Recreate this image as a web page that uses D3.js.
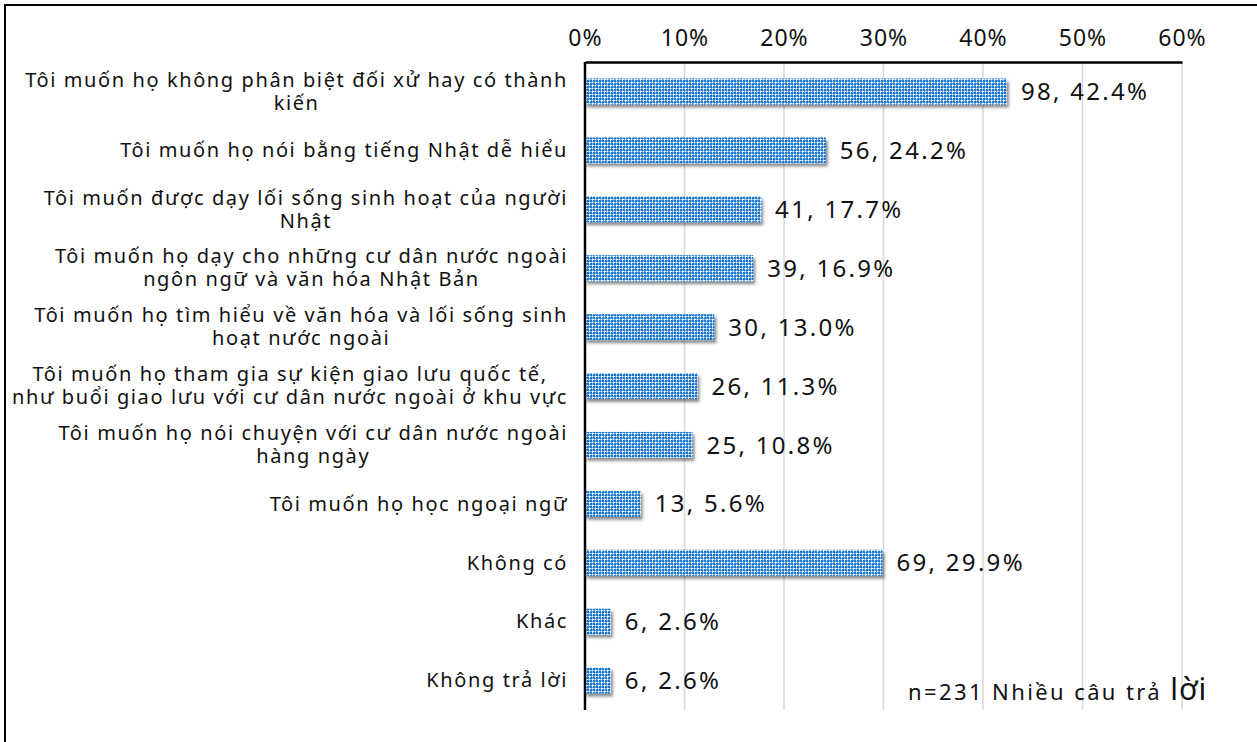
<!DOCTYPE html>
<html>
<head>
<meta charset="utf-8">
<script src="https://cdn.jsdelivr.net/npm/d3@7/dist/d3.min.js"></script>
<style>
  html, body { margin: 0; padding: 0; background: #fff; }
  svg { display: block; font-family: "Noto Sans", "Open Sans", sans-serif; }
</style>
</head>
<body>
<svg id="chart" width="1257" height="742"></svg>
<script>
// Survey answers (multi-line labels split with "\n")
const categories = [
  "Tôi muốn họ không phân biệt đối xử hay có thành\nkiến",
  "Tôi muốn họ nói bằng tiếng Nhật dễ hiểu",
  "Tôi muốn được dạy lối sống sinh hoạt của người\nNhật",
  "Tôi muốn họ dạy cho những cư dân nước ngoài\nngôn ngữ và văn hóa Nhật Bản",
  "Tôi muốn họ tìm hiểu về văn hóa và lối sống sinh\nhoạt nước ngoài",
  "Tôi muốn họ tham gia sự kiện giao lưu quốc tế,\nnhư buổi giao lưu với cư dân nước ngoài ở khu vực",
  "Tôi muốn họ nói chuyện với cư dân nước ngoài\nhàng ngày",
  "Tôi muốn họ học ngoại ngữ",
  "Không có",
  "Khác",
  "Không trả lời"
];
const counts   = [98, 56, 41, 39, 30, 26, 25, 13, 69, 6, 6];
const percents = [42.4, 24.2, 17.7, 16.9, 13.0, 11.3, 10.8, 5.6, 29.9, 2.6, 2.6];
const tickValues = [0, 10, 20, 30, 40, 50, 60];
const noteText = "n=231 Nhiều câu trả";
const noteTail = "lời";

const data = categories.map((c, i) => ({ cat: c, n: counts[i], pct: percents[i] }));

const svg = d3.select("#chart");
const plot = { left: 585, right: 1182, top: 62, bottom: 710 };

const x = d3.scaleLinear().domain([0, 60]).range([plot.left, plot.right]);
const y = d3.scaleBand().domain(categories).range([plot.top, plot.bottom]).paddingInner(0.56).paddingOuter(0.28);

// outer frame (top and left edges)
svg.append("path")
  .attr("d", "M5,742 V5 H1257")
  .attr("fill", "none").attr("stroke", "#000").attr("stroke-width", 2);

const defs = svg.append("defs");
// woven blue/white fill
const pat = defs.append("pattern")
  .attr("id", "weave").attr("patternUnits", "userSpaceOnUse")
  .attr("width", 6).attr("height", 6);
pat.append("rect").attr("width", 6).attr("height", 6).attr("fill", "#1a74cc");
const light = [[0,1],[3,1],[4,1],[1,0],[1,2],[1,3],[4,3],[4,5],[3,4],[5,4],[0,4],[2,1],[4,0]];
const white = [[1,1],[4,4],[2,4],[4,2],[5,1],[1,5],[1,4],[4,1]];
light.forEach(([px, py]) => pat.append("rect").attr("x", px).attr("y", py).attr("width", 1).attr("height", 1).attr("fill", "#7ab8f0"));
white.forEach(([px, py]) => pat.append("rect").attr("x", px).attr("y", py).attr("width", 1).attr("height", 1).attr("fill", "#ffffff"));

const shadow = defs.append("filter").attr("id", "shadow")
  .attr("x", "-10%").attr("y", "-20%").attr("width", "130%").attr("height", "160%");
shadow.append("feDropShadow").attr("dx", 2).attr("dy", 3).attr("stdDeviation", 1.6)
  .attr("flood-color", "#000").attr("flood-opacity", 0.45);

// vertical gridlines
svg.append("g").selectAll("line")
  .data(tickValues.filter(d => d > 0))
  .join("line")
  .attr("x1", d => x(d)).attr("x2", d => x(d))
  .attr("y1", plot.top).attr("y2", plot.bottom)
  .attr("stroke", "#d9d9d9").attr("stroke-width", 1.5);

// top axis
const xAxis = d3.axisTop(x).tickValues(tickValues).tickFormat(d => d + "%").tickSize(0).tickPadding(16);
const gx = svg.append("g").attr("transform", `translate(0,${plot.top})`).call(xAxis);
gx.select(".domain").attr("stroke", "#000").attr("stroke-width", 2.5);
gx.selectAll("text").attr("font-size", 23).attr("letter-spacing", 1).attr("fill", "#111")
  .attr("font-family", "\"Noto Sans\", sans-serif");

// bars
svg.append("g").selectAll("rect")
  .data(data)
  .join("rect")
  .attr("x", x(0))
  .attr("y", d => y(d.cat))
  .attr("width", d => x(d.pct) - x(0))
  .attr("height", y.bandwidth())
  .attr("fill", "url(#weave)")
  .attr("filter", "url(#shadow)");

// left axis line
svg.append("line")
  .attr("x1", plot.left).attr("x2", plot.left)
  .attr("y1", plot.top).attr("y2", plot.bottom)
  .attr("stroke", "#000").attr("stroke-width", 2.5);

// value labels
svg.append("g").selectAll("text")
  .data(data)
  .join("text")
  .attr("x", d => x(d.pct) + 14)
  .attr("y", d => y(d.cat) + y.bandwidth() / 2)
  .attr("dy", "0.36em")
  .attr("font-size", 24)
  .attr("letter-spacing", 2.3)
  .attr("fill", "#111")
  .text(d => `${d.n}, ${d.pct.toFixed(1)}%`);

// category labels, each block right-aligned, lines centred within block
const labelRight = 568;
const lineH = 23;
const catG = svg.append("g");
data.forEach(d => {
  const lines = d.cat.split("\n");
  const t = catG.append("text")
    .attr("font-size", 20)
    .attr("letter-spacing", 1.6)
    .attr("fill", "#111")
    .attr("text-anchor", "middle");
  const cy = y(d.cat) + y.bandwidth() / 2;
  const y0 = cy - (lines.length - 1) * lineH / 2;
  lines.forEach((ln, k) => {
    t.append("tspan").attr("y", y0 + k * lineH).attr("dy", "0.34em").text(ln);
  });
  const w = d3.max(t.selectAll("tspan").nodes(), n => n.getComputedTextLength());
  t.selectAll("tspan").attr("x", labelRight - w / 2);
});

// sample-size note
const note = svg.append("text")
  .attr("x", 908).attr("y", 700)
  .attr("font-size", 22).attr("letter-spacing", 2.4).attr("fill", "#111");
note.append("tspan").text(noteText + " ");
note.append("tspan").attr("font-size", 30).attr("letter-spacing", 1).text(noteTail);
</script>
</body>
</html>
